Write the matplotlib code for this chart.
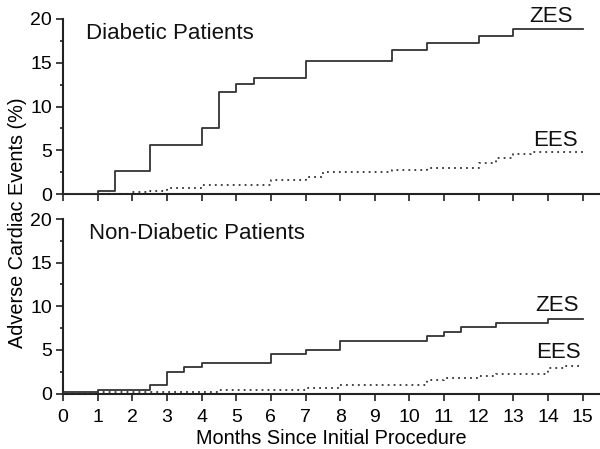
import matplotlib
matplotlib.use("Agg")
import matplotlib.pyplot as plt
from matplotlib.ticker import MultipleLocator

plt.rcParams['font.family'] = ['Liberation Sans', 'DejaVu Sans']

# Diabetic patients
dia_zes_t = [0, 1, 1.5, 2.5, 4, 4.5, 5, 5.5, 7, 9.5, 10.5, 12, 13, 15]
dia_zes_v = [0, 0.3, 2.6, 5.6, 7.6, 11.7, 12.6, 13.3, 15.2, 16.5, 17.2, 18.0, 18.8, 18.8]
dia_ees_t = [0, 2, 2.5, 3, 4, 6, 7, 7.5, 9.5, 10.5, 12, 12.5, 13, 13.5, 15]
dia_ees_v = [0, 0.25, 0.4, 0.7, 1.0, 1.6, 2.0, 2.5, 2.7, 3.0, 3.6, 4.1, 4.6, 4.8, 4.8]

# Non-diabetic patients
non_zes_t = [0, 1, 2.5, 3, 3.5, 4, 6, 7, 8, 10.5, 11, 11.5, 12.5, 14, 15]
non_zes_v = [0.15, 0.35, 1.0, 2.45, 3.0, 3.55, 4.5, 4.95, 6.0, 6.6, 7.1, 7.6, 8.05, 8.5, 8.5]
non_ees_t = [0, 1, 4.5, 7, 8, 10.5, 11, 12, 12.5, 14, 14.5, 15]
non_ees_v = [0, 0.15, 0.45, 0.65, 1.0, 1.6, 1.8, 2.0, 2.2, 2.9, 3.1, 3.1]

x_ticks = list(range(0, 16))
y_ticks = [0, 5, 10, 15, 20]

line_col = '#333333'
fig = plt.figure(figsize=(6.0, 4.49), dpi=100)
ax1 = fig.add_axes([0.105, 0.5679, 0.895, 0.3898])
ax2 = fig.add_axes([0.105, 0.1236, 0.895, 0.3886])

panels = [
    (ax1, dia_zes_t, dia_zes_v, dia_ees_t, dia_ees_v, 'Diabetic Patients', 0.66,
     (14.1, 19.6), (14.2, 5.5)),
    (ax2, non_zes_t, non_zes_v, non_ees_t, non_ees_v, 'Non-Diabetic Patients', 0.76,
     (14.25, 9.4), (14.3, 4.1)),
]

for ax, zt, zv, et, ev, title, tx, zpos, epos in panels:
    ax.step(zt, zv, where='post', color=line_col, lw=1.3, zorder=3)
    ax.step(et, ev, where='post', color=line_col, lw=1.3, linestyle=(0, (1, 2.3)), zorder=3)
    ax.set_xlim(0, 15.5)
    ax.set_ylim(0, 20)
    ax.set_xticks(x_ticks)
    ax.set_yticks(y_ticks)
    ax.yaxis.set_minor_locator(MultipleLocator(2.5))
    for s in ['top', 'right']:
        ax.spines[s].set_visible(False)
    for s in ['left', 'bottom']:
        ax.spines[s].set_linewidth(1.5)
        ax.spines[s].set_color('#222222')
    ax.tick_params(axis='both', which='major', length=5, width=1.2, color='#222222',
                   labelsize=14, pad=3)
    ax.tick_params(axis='y', which='minor', length=2.5, width=1.2, color='#222222')
    ax.text(tx, 17.7, title, fontsize=16, ha='left', va='baseline', color='#111111')
    ax.text(zpos[0], zpos[1], 'ZES', fontsize=16, ha='center', va='baseline', color='#111111')
    ax.text(epos[0], epos[1], 'EES', fontsize=16, ha='center', va='baseline', color='#111111')

ax1.tick_params(axis='x', labelbottom=False)
ax2.tick_params(axis='x', pad=6)
ax2.set_xlabel('Months Since Initial Procedure', fontsize=14.3, labelpad=2)
fig.text(0.03, 0.505, 'Adverse Cardiac Events (%)', rotation=90, fontsize=14.3,
         ha='center', va='center')

fig.savefig('out.png', dpi=100)
